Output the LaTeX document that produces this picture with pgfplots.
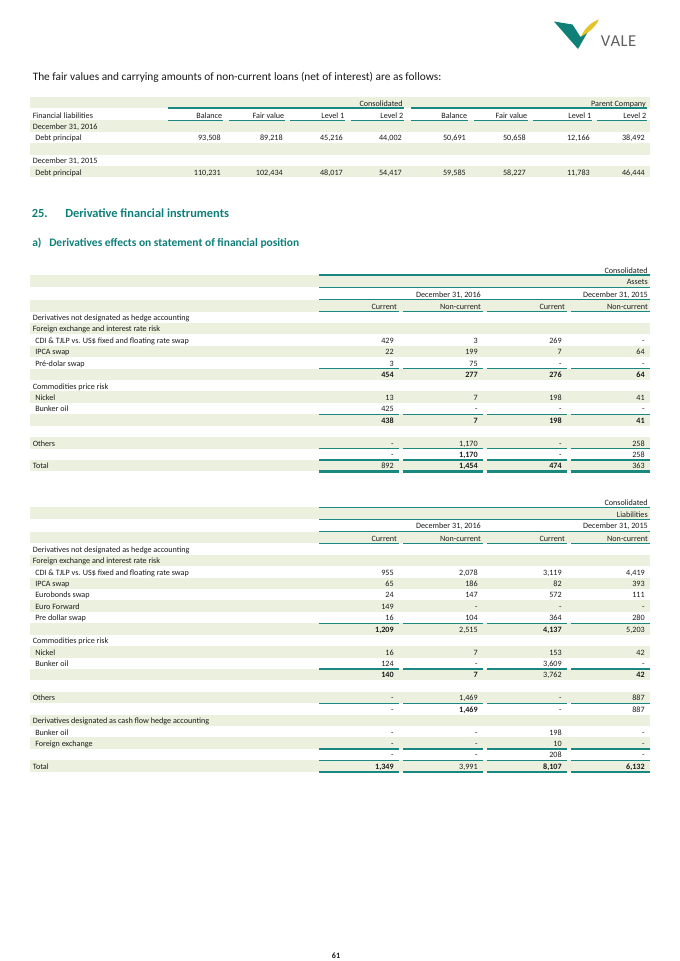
\documentclass[border=0pt]{standalone}
\usepackage{fontspec}
\setmainfont{Carlito}
\usepackage{pgfplots}
\pgfplotsset{compat=1.18}
\definecolor{rowgreen}{HTML}{EBF1DE}
\definecolor{teal1}{HTML}{1A8780}
\definecolor{tealtxt}{HTML}{0D7F7B}
\definecolor{logoteal}{HTML}{0E8078}
\definecolor{logoyel}{HTML}{E3C42C}
\definecolor{logogray}{HTML}{5E6062}
\definecolor{ink}{HTML}{1A1A1A}
\tikzset{
  tx/.style={inner sep=0pt, font=\fontsize{6.1}{7.2}\selectfont, text=ink},
  L/.style={tx, anchor=mid west},
  N/.style={tx, anchor=mid east},
  tl/.style={draw=teal1, line width=0.95pt},
  tk/.style={draw=teal1, line width=1.7pt},
}
% body row tops
\newcommand\AB[1]{311.5+11.42*(#1-4)}
\newcommand\LB[1]{543.3+11.42*(#1-4)}
\newcommand\Nrow[5]{%
  \node[N] at (394,{#1}) {#2};
  \node[N] at (478,{#1}) {#3};
  \node[N] at (562,{#1}) {#4};
  \node[N] at (645,{#1}) {#5};}
\newcommand\sh[2]{\fill[rowgreen] (30,{#1}) rectangle (650,{#2});}
\newcommand\cl[1]{%
  \draw[tl] (319,{#1}) -- (399,{#1});
  \draw[tl] (403,{#1}) -- (483,{#1});
  \draw[tl] (487,{#1}) -- (567,{#1});
  \draw[tl] (571,{#1}) -- (650,{#1});}
\newcommand\ck[1]{%
  \draw[tk] (319,{#1}) -- (399,{#1});
  \draw[tk] (403,{#1}) -- (483,{#1});
  \draw[tk] (487,{#1}) -- (567,{#1});
  \draw[tk] (571,{#1}) -- (650,{#1});}
\newcommand\fl[1]{\draw[tl] (319,{#1}) -- (650,{#1});}
\newcommand\TR[9]{%
  \node[N] at (221,{#1}) {#2};
  \node[N] at (283,{#1}) {#3};
  \node[N] at (343,{#1}) {#4};
  \node[N] at (402,{#1}) {#5};
  \node[N] at (466,{#1}) {#6};
  \node[N] at (526,{#1}) {#7};
  \node[N] at (590,{#1}) {#8};
  \node[N] at (645,{#1}) {#9};}
\begin{document}
\begin{tikzpicture}
\begin{axis}[
  scale only axis, width=510pt, height=720.75pt,
  xmin=0, xmax=680, ymin=0, ymax=961, y dir=reverse,
  hide axis, clip=false,
]
\addplot[draw=none] coordinates {(0,0) (680,961)};
\fill[white] (0,0) rectangle (680,961);

% ---------- logo ----------
\fill[logoteal] (554,21.5) -- (572.5,24.5) -- (580.5,37) -- (590,28) -- (578,49) -- cycle;
\fill[logoyel] (581,36.5) .. controls (585,28) and (591,22) .. (599,19.5) .. controls (596,26) and (590,32) .. cycle;
\node[anchor=base west, inner sep=0pt, text=logogray, font=\fontsize{12.5}{13}\selectfont] at (600.5,46) {V\kern0.3pt A\kern0.3pt L\kern0.3pt E};

% ---------- intro sentence ----------
\node[anchor=base west, inner sep=0pt, text=ink, font=\fontsize{8.5}{9.5}\selectfont] at (32.5,80.5)
  {The fair values and carrying amounts of non-current loans (net of interest) are as follows:};

% ---------- table 1 ----------
\sh{97}{108}
\sh{120.3}{131.7}
\sh{143.1}{154.6}
\sh{166}{177.4}
\node[N] at (403,103) {Consolidated};
\node[N] at (646,103) {Parent Company};
\draw[tl] (168,108) -- (404,108);
\draw[tl] (411,108) -- (647,108);
\node[L] at (32.5,115.5) {Financial liabilities};
\node[N] at (222.5,115.5) {Balance};
\node[N] at (284.5,115.5) {Fair value};
\node[N] at (344.5,115.5) {Level 1};
\node[N] at (403.5,115.5) {Level 2};
\node[N] at (467.5,115.5) {Balance};
\node[N] at (527.5,115.5) {Fair value};
\node[N] at (591.5,115.5) {Level 1};
\node[N] at (646.5,115.5) {Level 2};
\draw[tl] (168,120.3) -- (223,120.3);
\draw[tl] (229,120.3) -- (285,120.3);
\draw[tl] (290,120.3) -- (345,120.3);
\draw[tl] (351,120.3) -- (404,120.3);
\draw[tl] (411,120.3) -- (468,120.3);
\draw[tl] (474,120.3) -- (528,120.3);
\draw[tl] (533,120.3) -- (592,120.3);
\draw[tl] (597,120.3) -- (647,120.3);
\node[L] at (32.5,126.5) {December 31, 2016};
\node[L] at (35,137.7) {Debt principal};
\TR{137.7}{93,508}{89,218}{45,216}{44,002}{50,691}{50,658}{12,166}{38,492}
\node[L] at (32.5,160.8) {December 31, 2015};
\node[L] at (35,172) {Debt principal};
\TR{172}{110,231}{102,434}{48,017}{54,417}{59,585}{58,227}{11,783}{46,444}

% ---------- headings ----------
\node[anchor=base west, inner sep=0pt, text=tealtxt, font=\bfseries\fontsize{9.3}{10.5}\selectfont] at (31.5,217.5) {25.};
\node[anchor=base west, inner sep=0pt, text=tealtxt, font=\bfseries\fontsize{9.3}{10.5}\selectfont] at (65,217.5) {Derivative financial instruments};
\node[anchor=base west, inner sep=0pt, text=tealtxt, font=\bfseries\fontsize{8.6}{10}\selectfont] at (32,246.5) {a)};
\node[anchor=base west, inner sep=0pt, text=tealtxt, font=\bfseries\fontsize{8.6}{10}\selectfont] at (49,246.5) {Derivatives effects on statement of financial position};

% ---------- assets table ----------
\sh{275}{287.3}
\sh{299.5}{311.5}
\sh{\AB{5}}{\AB{6}}
\sh{\AB{7}}{\AB{8}}
\sh{\AB{9}}{\AB{10}}
\sh{\AB{11}}{\AB{12}}
\sh{\AB{13}}{\AB{14}}
\sh{\AB{15}}{\AB{16}}
\sh{\AB{17}}{\AB{18}}
\node[N] at (648,270) {Consolidated};
\fl{275}
\node[N] at (648,281.7) {Assets};
\fl{287.3}
\node[N] at (481,294) {December 31, 2016};
\node[N] at (648,294) {December 31, 2015};
\fl{299.5}
\node[N] at (397,306.3) {Current};
\node[N] at (481,306.3) {Non-current};
\node[N] at (565,306.3) {Current};
\node[N] at (648,306.3) {Non-current};
\cl{311.5}
\node[L] at (32.5,{\AB{4}+5.8}) {Derivatives not designated as hedge accounting};
\node[L] at (32.5,{\AB{5}+5.8}) {Foreign exchange and interest rate risk};
\node[L] at (35,{\AB{6}+5.8}) {CDI \& TJLP vs. US\$ fixed and floating rate swap};
\Nrow{\AB{6}+5.8}{429}{3}{269}{-}
\node[L] at (35,{\AB{7}+5.8}) {IPCA swap};
\Nrow{\AB{7}+5.8}{22}{199}{7}{64}
\node[L] at (35,{\AB{8}+5.8}) {Pré-dolar swap};
\Nrow{\AB{8}+5.8}{3}{75}{-}{-}
\cl{\AB{9}}
\Nrow{\AB{9}+5.8}{\bfseries 454}{\bfseries 277}{\bfseries 276}{\bfseries 64}
\node[L] at (32.5,{\AB{10}+5.8}) {Commodities price risk};
\node[L] at (35,{\AB{11}+5.8}) {Nickel};
\Nrow{\AB{11}+5.8}{13}{7}{198}{41}
\node[L] at (35,{\AB{12}+5.8}) {Bunker oil};
\Nrow{\AB{12}+5.8}{425}{-}{-}{-}
\cl{\AB{13}}
\Nrow{\AB{13}+5.8}{\bfseries 438}{\bfseries 7}{\bfseries 198}{\bfseries 41}
\node[L] at (32.5,{\AB{15}+5.8}) {Others};
\Nrow{\AB{15}+5.8}{-}{1,170}{-}{258}
\cl{\AB{16}}
\Nrow{\AB{16}+5.8}{-}{\bfseries 1,170}{-}{258}
\cl{\AB{17}}
\node[L] at (32.5,{\AB{17}+5.8}) {Total};
\Nrow{\AB{17}+5.8}{892}{\bfseries 1,454}{\bfseries 474}{363}
\ck{\AB{18}}

% ---------- liabilities table ----------
\sh{507.3}{519.3}
\sh{531.7}{543.3}
\sh{\LB{5}}{\LB{6}}
\sh{\LB{7}}{\LB{8}}
\sh{\LB{9}}{\LB{10}}
\sh{\LB{11}}{\LB{12}}
\sh{\LB{13}}{\LB{14}}
\sh{\LB{15}}{\LB{16}}
\sh{\LB{17}}{\LB{18}}
\sh{\LB{19}}{\LB{20}}
\sh{\LB{21}}{\LB{22}}
\sh{\LB{23}}{\LB{24}}
\node[N] at (648,502.5) {Consolidated};
\fl{507.3}
\node[N] at (648,514) {Liabilities};
\fl{519.3}
\node[N] at (481,525.5) {December 31, 2016};
\node[N] at (648,525.5) {December 31, 2015};
\fl{531.7}
\node[N] at (397,538) {Current};
\node[N] at (481,538) {Non-current};
\node[N] at (565,538) {Current};
\node[N] at (648,538) {Non-current};
\cl{543.3}
\node[L] at (32.5,{\LB{4}+5.8}) {Derivatives not designated as hedge accounting};
\node[L] at (32.5,{\LB{5}+5.8}) {Foreign exchange and interest rate risk};
\node[L] at (35,{\LB{6}+5.8}) {CDI \& TJLP vs. US\$ fixed and floating rate swap};
\Nrow{\LB{6}+5.8}{955}{2,078}{3,119}{4,419}
\node[L] at (35,{\LB{7}+5.8}) {IPCA swap};
\Nrow{\LB{7}+5.8}{65}{186}{82}{393}
\node[L] at (35,{\LB{8}+5.8}) {Eurobonds swap};
\Nrow{\LB{8}+5.8}{24}{147}{572}{111}
\node[L] at (35,{\LB{9}+5.8}) {Euro Forward};
\Nrow{\LB{9}+5.8}{149}{-}{-}{-}
\node[L] at (35,{\LB{10}+5.8}) {Pre dollar swap};
\Nrow{\LB{10}+5.8}{16}{104}{364}{280}
\cl{\LB{11}}
\Nrow{\LB{11}+5.8}{\bfseries 1,209}{2,515}{\bfseries 4,137}{5,203}
\node[L] at (32.5,{\LB{12}+5.8}) {Commodities price risk};
\node[L] at (35,{\LB{13}+5.8}) {Nickel};
\Nrow{\LB{13}+5.8}{16}{7}{153}{42}
\node[L] at (35,{\LB{14}+5.8}) {Bunker oil};
\Nrow{\LB{14}+5.8}{124}{-}{3,609}{-}
\cl{\LB{15}}
\Nrow{\LB{15}+5.8}{\bfseries 140}{\bfseries 7}{3,762}{\bfseries 42}
\node[L] at (32.5,{\LB{17}+5.8}) {Others};
\Nrow{\LB{17}+5.8}{-}{1,469}{-}{887}
\cl{\LB{18}}
\Nrow{\LB{18}+5.8}{-}{\bfseries 1,469}{-}{887}
\node[L] at (32.5,{\LB{19}+5.8}) {Derivatives designated as cash flow hedge accounting};
\node[L] at (35,{\LB{20}+5.8}) {Bunker oil};
\Nrow{\LB{20}+5.8}{-}{-}{198}{-}
\node[L] at (35,{\LB{21}+5.8}) {Foreign exchange};
\Nrow{\LB{21}+5.8}{-}{-}{10}{-}
\cl{\LB{22}}
\Nrow{\LB{22}+5.8}{-}{-}{208}{-}
\cl{\LB{23}}
\node[L] at (32.5,{\LB{23}+5.8}) {Total};
\Nrow{\LB{23}+5.8}{\bfseries 1,349}{3,991}{\bfseries 8,107}{\bfseries 6,132}
\ck{\LB{24}}

% ---------- page number ----------
\node[tx, anchor=mid] at (336,955.5) {\bfseries 61};
\end{axis}
\end{tikzpicture}
\end{document}
